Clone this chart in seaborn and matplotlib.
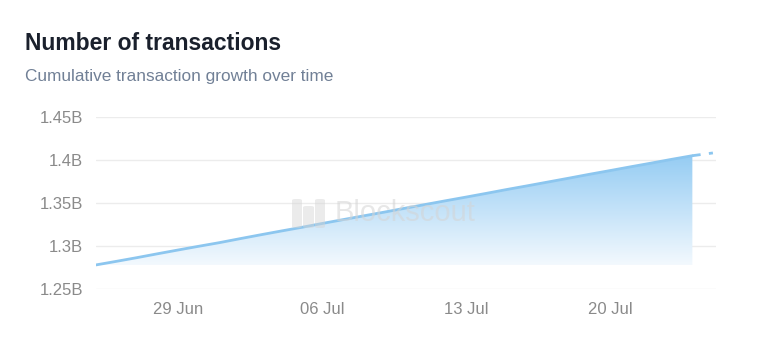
import numpy as np
import pandas as pd
import matplotlib
matplotlib.use("Agg")
import matplotlib.pyplot as plt
import matplotlib.dates as mdates
from matplotlib.colors import LinearSegmentedColormap
from matplotlib.patches import Polygon, FancyBboxPatch
import seaborn as sns

# Daily cumulative transaction counts (billions), 25 Jun - 25 Jul
dates = pd.date_range("2024-06-25", "2024-07-25", freq="D")
tx_billions = [
    1.2780, 1.2822, 1.2865, 1.2910, 1.2954, 1.2997, 1.3039, 1.3085,
    1.3130, 1.3174, 1.3217, 1.3262, 1.3306, 1.3350, 1.3393, 1.3438,
    1.3482, 1.3526, 1.3569, 1.3613, 1.3658, 1.3701, 1.3745, 1.3789,
    1.3834, 1.3877, 1.3921, 1.3964, 1.4008, 1.4050, 1.4082,
]
y_ticks = [1.25, 1.30, 1.35, 1.40, 1.45]
y_tick_labels = ["1.25B", "1.3B", "1.35B", "1.4B", "1.45B"]
x_tick_dates = ["2024-06-29", "2024-07-06", "2024-07-13", "2024-07-20"]

df = pd.DataFrame({"date": dates, "value": tx_billions})
done = df.iloc[:-1]          # complete days
partial = df.iloc[-2:]       # current (incomplete) day

sns.set_style("white")
plt.rcParams["font.family"] = ["Liberation Sans", "DejaVu Sans"]

LINE = "#8cc6ef"
MARK = "#d4d4d4"

fig = plt.figure(figsize=(7.68, 3.41), dpi=100)
ax = fig.add_axes([96 / 768, 1 - 289 / 341, 620 / 768, 172 / 341])

# gradient area under the completed part of the series
xs = mdates.date2num(done["date"])
ys = done["value"].to_numpy()
base = ys.min()
verts = np.column_stack([np.r_[xs, xs[-1], xs[0]], np.r_[ys, base, base]])
poly = Polygon(verts, closed=True, facecolor="none", edgecolor="none")
ax.add_patch(poly)
cmap = LinearSegmentedColormap.from_list("fade", ["#f3f9fe", "#95ccf3"])
grad = np.linspace(0, 1, 256).reshape(-1, 1)
img = ax.imshow(grad, cmap=cmap, aspect="auto", origin="lower",
                extent=[xs[0], xs[-1], base, ys.max()], zorder=1)
img.set_clip_path(poly)

sns.lineplot(data=done, x="date", y="value", ax=ax, color=LINE,
             linewidth=2.0, zorder=3)
sns.lineplot(data=partial, x="date", y="value", ax=ax, color=LINE,
             linewidth=2.0, linestyle=(0, (3, 3)), zorder=3)

ax.set_ylim(1.25, 1.45)
ax.set_xlim(mdates.date2num(dates[0]), mdates.date2num(dates[-1]) + 0.15)
ax.set_yticks(y_ticks)
ax.set_yticklabels(y_tick_labels)
ax.set_xticks(pd.to_datetime(x_tick_dates))
ax.xaxis.set_major_formatter(mdates.DateFormatter("%d %b"))
ax.grid(axis="y", color="#ececec", linewidth=1.0, zorder=0)
ax.grid(axis="x", visible=False)
for s in ax.spines.values():
    s.set_visible(False)
ax.tick_params(axis="both", length=0, labelsize=12, colors="#8a8a8a")
ax.tick_params(axis="y", pad=9.5)
ax.tick_params(axis="x", pad=9)
ax.set_xlabel("")
ax.set_ylabel("")

# watermark: logo blocks plus wordmark, in figure pixel space
def fx(px):
    return px / 768

def fy(py):
    return 1 - py / 341

for x0, y0, w, h in [(292, 199, 10, 29), (303, 206, 11, 22), (315, 199, 10, 29)]:
    fig.patches.append(FancyBboxPatch((fx(x0), fy(y0 + h)), w / 768, h / 341,
                                      boxstyle="round,pad=0,rounding_size=0.004",
                                      transform=fig.transFigure,
                                      facecolor=MARK, edgecolor="none",
                                      alpha=0.45, zorder=2))
fig.text(fx(335), fy(213), "Blockscout", fontsize=21, color=MARK,
         alpha=0.55, ha="left", va="center", zorder=2)

fig.text(25 / 768, 1 - 43 / 341, "Number of transactions", fontsize=16.5,
         fontweight="bold", color="#1a202c", va="center", ha="left")
fig.text(25 / 768, 1 - 77 / 341, "Cumulative transaction growth over time",
         fontsize=12.4, color="#718096", va="center", ha="left")

fig.savefig("out.png", dpi=100, facecolor="white")
